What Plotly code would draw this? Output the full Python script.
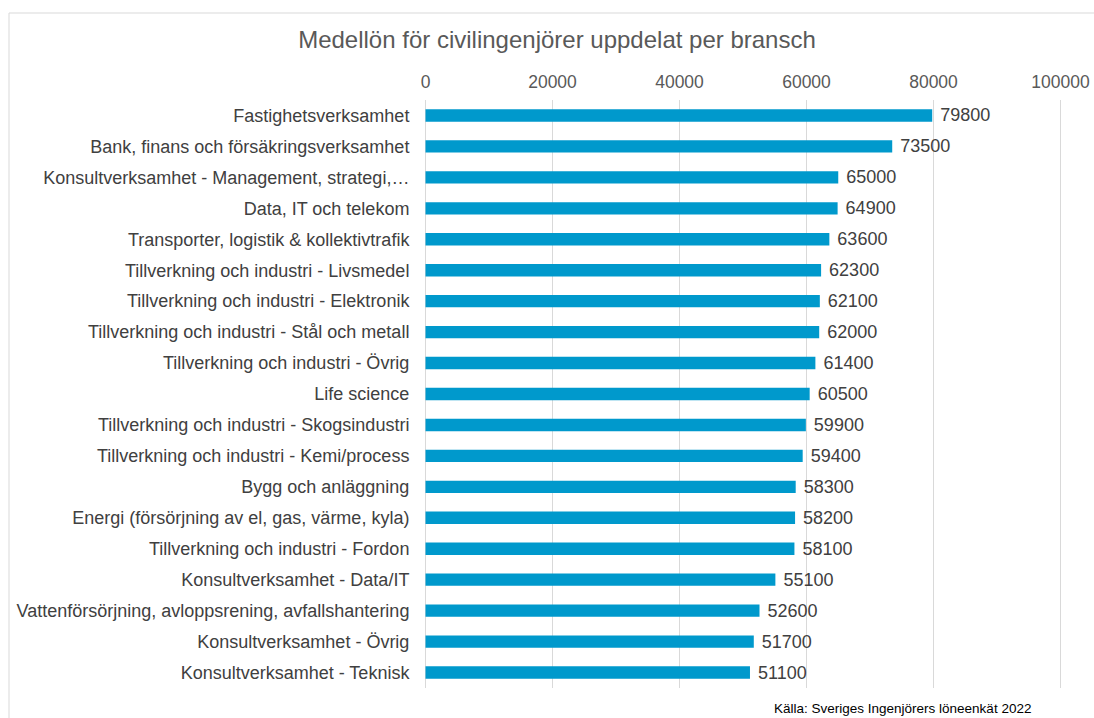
import plotly.graph_objects as go

categories = [
    "Fastighetsverksamhet",
    "Bank, finans och försäkringsverksamhet",
    "Konsultverksamhet - Management, strategi,…",
    "Data, IT och telekom",
    "Transporter, logistik & kollektivtrafik",
    "Tillverkning och industri - Livsmedel",
    "Tillverkning och industri - Elektronik",
    "Tillverkning och industri - Stål och metall",
    "Tillverkning och industri - Övrig",
    "Life science",
    "Tillverkning och industri - Skogsindustri",
    "Tillverkning och industri - Kemi/process",
    "Bygg och anläggning",
    "Energi (försörjning av el, gas, värme, kyla)",
    "Tillverkning och industri - Fordon",
    "Konsultverksamhet - Data/IT",
    "Vattenförsörjning, avloppsrening, avfallshantering",
    "Konsultverksamhet - Övrig",
    "Konsultverksamhet - Teknisk",
]
salaries = [79800, 73500, 65000, 64900, 63600, 62300, 62100, 62000, 61400, 60500,
            59900, 59400, 58300, 58200, 58100, 55100, 52600, 51700, 51100]
tick_values = [0, 20000, 40000, 60000, 80000, 100000]

W, H = 1094, 718
ml, mr, mt, mb = 425, 33, 100, 30
pw, ph = W - ml - mr, H - mt - mb

def px(x):
    return (x - ml) / pw

def py(y):
    return (H - mb - y) / ph

fig = go.Figure(go.Bar(
    x=salaries, y=categories, orientation="h",
    marker=dict(color="#0099CC", line=dict(width=0)),
    text=[str(v) for v in salaries], texttemplate=" %{text}",
    textposition="outside", constraintext="none",
    textfont=dict(size=18, color="#404040", family="Liberation Sans, Arial"),
    cliponaxis=False,
))

grid_shapes = [
    dict(type="line", xref="x", yref="paper", x0=v, x1=v, y0=0, y1=1,
         layer="below", line=dict(color="#D9D9D9", width=1))
    for v in tick_values
]

fig.update_layout(
    width=W, height=H,
    margin=dict(l=ml, r=mr, t=mt, b=mb, autoexpand=False),
    paper_bgcolor="white", plot_bgcolor="white",
    font=dict(family="Liberation Sans, Arial", color="#595959"),
    bargap=0.6,
    showlegend=False,
    title=dict(text="Medellön för civilingenjörer uppdelat per bransch",
               xref="container", yref="container",
               x=557 / W, xanchor="center", y=1 - 40 / H, yanchor="middle",
               font=dict(size=24, color="#595959")),
    xaxis=dict(side="top", range=[-80, 100080], tickvals=tick_values,
               ticktext=[str(v) for v in tick_values], automargin=False,
               showgrid=False,
               zeroline=False, showline=False, ticks="outside", ticklen=4,
               tickcolor="rgba(0,0,0,0)",
               tickfont=dict(size=17.5, color="#595959")),
    yaxis=dict(categoryorder="array", categoryarray=categories[::-1], automargin=False,
               showgrid=False, zeroline=False, showline=False, ticks="outside",
               ticklen=11, tickcolor="rgba(0,0,0,0)",
               tickfont=dict(size=18, color="#404040")),
    shapes=grid_shapes + [
        dict(type="line", xref="paper", yref="paper",
             x0=px(9), x1=px(W + 5), y0=py(13), y1=py(13),
             line=dict(color="#D9D9D9", width=1)),
        dict(type="line", xref="paper", yref="paper",
             x0=px(9), x1=px(9), y0=py(13), y1=py(H + 5),
             line=dict(color="#D9D9D9", width=1)),
    ],
    annotations=[
        dict(text="Källa: Sveriges Ingenjörers löneenkät 2022", xref="paper", yref="paper",
             x=px(902), y=py(708), xanchor="center", yanchor="middle",
             showarrow=False, font=dict(size=13.5, color="#000000")),
    ],
)

fig.write_html("out.html", config={"displayModeBar": False},
               post_script="document.body.style.margin='0px';")
